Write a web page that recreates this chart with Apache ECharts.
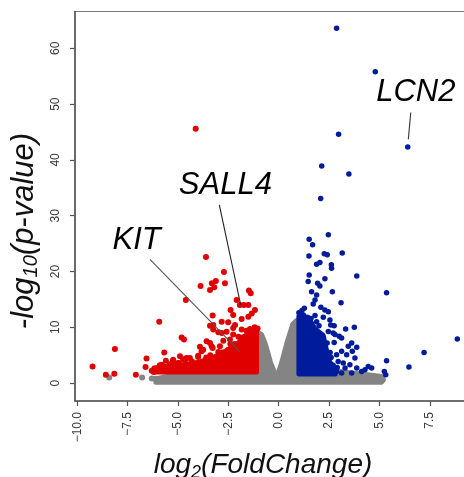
<!DOCTYPE html>
<html><head><meta charset="utf-8">
<script src="https://cdn.jsdelivr.net/npm/echarts@6/dist/echarts.min.js"></script>
<style>html,body{margin:0;padding:0;background:#fff}#c{width:464px;height:477px}</style>
</head><body><div id="c"></div>
<script>
// ---- data (log2 fold change, -log10 p-value) ----
const xTicks = [-10, -7.5, -5, -2.5, 0, 2.5, 5, 7.5];
const yTicks = [0, 10, 20, 30, 40, 50, 60];

// non-significant genes: dense cloud outline + stray points
const grayEnvelope = [[-6.1,0.8],[-5.2,1.4],[-4,1.6],[-3,1.8],[-2,2.0],[-1.3,2.5],[-1.1,7.0],[-1.0,9.0],[-0.85,8.7],[-0.7,7.4],[-0.55,5.6],[-0.4,3.6],[-0.1,0.9],[0.14,3.6],[0.39,7.0],[0.7,10.6],[0.88,11.2],[1.1,8],[1.3,4],[2,2.6],[3.2,2.0],[4.2,1.6],[5.1,1.2],[5.2,0.6],[5.1,0.15],[0,0.15],[-6.1,0.15]];
const grayPoints = [[-8.41,1.0],[-6.78,1.0],[-6.3,0.85],[-6.1,0.8]];

// down-regulated genes: dense core outline + individual points
const redCore = [[-6.2,2.0],[-6.2,2.7],[-5.6,3.0],[-4.9,3.2],[-3.9,3.8],[-3.25,4.6],[-2.6,5.8],[-2.0,7.2],[-1.7,8.4],[-1.4,9.0],[-1.1,9.2],[-1.1,2.0]];
const redPoints = [[-4.12,45.6],[-3.61,22.6],[-2.72,19.9],[-3.12,18.3],[-3.32,17.9],[-3.88,17.4],[-2.67,17.9],[-3.41,16.7],[-3.20,17.2],[-1.48,16.6],[-1.39,16.1],[-4.61,14.9],[-2.09,14.9],[-1.93,14.0],[-1.73,14.0],[-1.51,14.0],[-1.18,13.1],[-2.39,13.1],[-1.34,12.5],[-2.26,12.2],[-1.51,11.9],[-3.28,12.1],[-1.84,11.5],[-5.93,11.0],[-2.51,10.9],[-2.83,11.0],[-2.17,10.4],[-3.25,10.4],[-3.41,10.3],[-2.26,9.9],[-1.84,9.6],[-1.43,9.7],[-3.25,9.6],[-3.0,9.1],[-2.83,9.0],[-2.59,9.2],[-2.26,8.7],[-4.82,8.2],[-4.70,7.8],[-3.58,7.5],[-2.75,7.6],[-2.42,7.8],[-3.41,7.2],[-3.33,6.6],[-2.92,6.6],[-3.91,6.5],[-3.28,6.3],[-3.75,6.0],[-2.51,6.0],[-3.83,5.7],[-4.0,4.9],[-4.57,4.5],[-4.0,4.7],[-2.67,4.8],[-4.9,4.8],[-4.41,4.5],[-5.24,4.2],[-4.65,4.2],[-3.08,4.2],[-2.83,3.6],[-3.25,3.3],[-3.66,3.6],[-8.13,6.1],[-9.24,3.0],[-8.58,1.5],[-8.16,1.7],[-7.09,1.5],[-6.56,4.4],[-6.61,2.9],[-5.68,5.5],[-5.60,4.0],[-5.27,3.8],[-4.95,3.6],[-4.74,4.3],[-6.3,2.2],[-6.2,2.0],[-5.9,3.2],[-5.4,3.4],[-6.0,2.6],[-1.93,5.66],[-1.2,10.0],[-1.6,9.4],[-2.0,8.3],[-2.4,7.0],[-1.05,9.8],[-3.6,4.6],[-3.0,5.6],[-2.8,5.5],[-2.2,7.0],[-1.8,8.2],[-4.3,3.9],[-5.0,3.6],[-5.8,3.3],[-3.4,5.0],[-2.3,6.6]];

// up-regulated genes: dense core outline + individual points
const blueCore = [[1.0,1.65],[1.0,12.0],[1.46,11.8],[1.8,9.7],[2.2,8.6],[2.35,6.2],[2.5,4.0],[2.8,2.3],[2.8,1.65]];
const bluePoints = [[2.87,63.6],[4.79,55.8],[2.97,44.6],[6.40,42.3],[2.13,38.9],[3.48,37.5],[2.08,33.1],[2.46,26.6],[1.51,25.8],[1.68,24.8],[3.15,23.3],[1.50,22.8],[2.26,23.2],[2.41,23.0],[2.04,21.6],[1.88,21.3],[2.61,21.2],[2.62,20.6],[3.87,19.2],[1.51,19.4],[2.29,18.7],[1.46,18.2],[1.93,17.9],[2.04,17.4],[5.35,16.2],[2.66,16.4],[1.63,16.4],[1.88,15.8],[1.80,14.9],[3.09,14.4],[1.71,14.2],[1.27,13.4],[2.09,13.6],[2.29,13.1],[2.46,12.8],[1.22,12.2],[1.80,12.1],[1.38,11.3],[2.21,11.8],[2.54,11.3],[1.88,11.0],[2.58,10.4],[2.75,10.3],[3.32,9.7],[3.75,10.0],[2.46,9.25],[2.79,8.7],[2.70,9.0],[3.00,8.4],[8.86,7.9],[3.12,8.1],[2.75,7.3],[3.45,6.6],[3.62,7.2],[3.87,6.45],[3.65,5.7],[3.12,5.7],[2.87,5.1],[3.37,5.1],[7.21,5.5],[3.78,4.5],[2.95,3.9],[3.2,3.6],[5.35,4.0],[6.46,2.9],[3.53,3.3],[3.29,2.7],[3.87,2.7],[3.62,1.8],[4.11,2.1],[2.87,2.1],[3.12,1.8],[4.44,3.0],[4.61,2.7],[4.28,2.4],[5.24,2.1],[5.31,1.5],[1.0,12.6],[1.15,13.0],[2.4,7.2],[2.55,5.5],[2.6,4.6],[2.7,3.2],[2.9,2.8],[2.0,10.3],[1.6,11.6]];

// gene annotations
const labelNames = ['LCN2', 'SALL4', 'KIT'];
const labelX = [6.80, -2.65, -7.05];
const labelY = [52.1, 35.4, 25.5];
const labelLineFrom = [[6.55,48.5], [-2.95,31.95], [-6.39,22.2]];
const labelLineTo = [[6.43,43.7], [-1.89,14.05], [-1.93,5.66]];
const labelLineColors = ['#333', '#222', '#555'];

// axis titles
const xTitle = '{a|log}{s|2}{a|(FoldChange)}';
const yTitle = '{a|-log}{s|10}{a|(p-value)}';

// ---- chart ----
const FONT = '"Liberation Sans", Arial, Helvetica, sans-serif';
const RED = '#e10000', BLUE = '#001c9c', GRAY = '#848484';

function polySeries(points, color, z) {
  return {
    type: 'custom', z: z, clip: true, silent: true,
    data: [[0, 0]], encode: { x: 0, y: 1 },
    renderItem: function (params, api) {
      return {
        type: 'polygon',
        shape: { points: points.map(p => api.coord(p)) },
        style: { fill: color, stroke: color, lineWidth: 5, lineJoin: 'round' }
      };
    }
  };
}
function titleRich(main, sub) {
  return {
    a: { fontSize: main, fontStyle: 'italic', fontFamily: FONT, fill: '#111', lineHeight: 34 },
    s: { fontSize: sub, fontStyle: 'italic', fontFamily: FONT, fill: '#111', lineHeight: sub, verticalAlign: 'bottom' }
  };
}

const chart = echarts.init(document.getElementById('c'), null, { renderer: 'canvas' });
chart.setOption({
  animation: false,
  backgroundColor: '#fff',
  textStyle: { fontFamily: FONT },
  grid: { left: 75, right: -6, top: 11.5, bottom: 76, show: true, borderColor: '#777', borderWidth: 1.2,
    containLabel: false, outerBoundsMode: 'none' },
  xAxis: {
    type: 'value', min: -10.11, max: 9.49,
    splitLine: { show: false },
    axisLine: { show: true, onZero: false, lineStyle: { color: '#555', width: 1.5 } },
    axisTick: { show: true, customValues: xTicks, length: 5, lineStyle: { color: '#555', width: 1.2 } },
    axisLabel: { customValues: xTicks, rotate: 90, margin: 11, fontSize: 12, color: '#3a3a3a', fontFamily: FONT,
      formatter: v => v.toFixed(1).replace('-', '\u2212') }
  },
  yAxis: {
    type: 'value', min: -3.2, max: 66.6,
    splitLine: { show: false },
    axisLine: { show: true, onZero: false, lineStyle: { color: '#555', width: 1.5 } },
    axisTick: { show: true, customValues: yTicks, length: 5, lineStyle: { color: '#555', width: 1.2 } },
    axisLabel: { customValues: yTicks, rotate: 90, margin: 13, fontSize: 12, color: '#3a3a3a', fontFamily: FONT }
  },
  graphic: [
    { type: 'text', x: 263, y: 465, silent: true,
      style: { text: xTitle, rich: titleRich(28, 18), align: 'center', verticalAlign: 'middle' } },
    { type: 'text', x: 24, y: 231, rotation: Math.PI / 2, silent: true,
      style: { text: yTitle, rich: titleRich(31, 20), align: 'center', verticalAlign: 'middle' } }
  ],
  series: [
    polySeries(grayEnvelope, GRAY, 1),
    { type: 'scatter', z: 1, data: grayPoints, symbolSize: 6, itemStyle: { color: GRAY, opacity: 1 }, silent: true },
    polySeries(redCore, RED, 2),
    { type: 'scatter', z: 2, data: redPoints, symbolSize: 6, itemStyle: { color: RED, opacity: 1 }, silent: true },
    polySeries(blueCore, BLUE, 2),
    { type: 'scatter', z: 2, data: bluePoints, symbolSize: 5.5, itemStyle: { color: BLUE, opacity: 1 }, silent: true },
    { type: 'lines', coordinateSystem: 'cartesian2d', z: 3, silent: true,
      data: labelLineFrom.map((f, i) => ({ coords: [f, labelLineTo[i]], lineStyle: { color: labelLineColors[i] } })),
      lineStyle: { width: 1.1, opacity: 1 } },
    { type: 'scatter', z: 4, symbolSize: 0, silent: true, itemStyle: { opacity: 1 },
      data: labelNames.map((n, i) => ({ name: n, value: [labelX[i], labelY[i]] })),
      label: { show: true, position: 'inside', formatter: p => p.name, fontSize: 31, fontStyle: 'italic', fontFamily: FONT, color: '#000', opacity: 1 } }
  ]
});
</script></body></html>
